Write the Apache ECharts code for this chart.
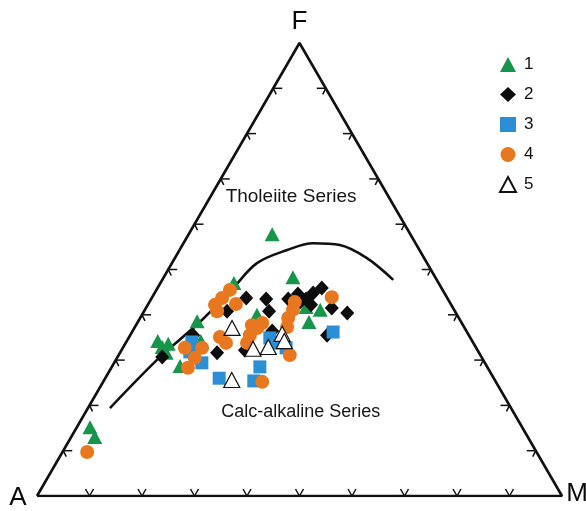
<!DOCTYPE html>
<html>
<head>
<meta charset="utf-8">
<script src="https://cdn.jsdelivr.net/npm/echarts@6/dist/echarts.min.js"></script>
<style>html,body{margin:0;padding:0;background:#fff}#c{width:586px;height:511px}</style>
</head>
<body>
<div id="c"></div>
<script>
// Ternary data as [A, F, M] (percent)
const vertexLabels = ['A', 'F', 'M'];
const tickValues = [10, 20, 30, 40, 50, 60, 70, 80, 90];
const seriesNames = ['1', '2', '3', '4', '5'];
const fieldLabels = ['Tholeiite Series', 'Calc-alkaline Series'];
const fieldPositions = [[18.6, 66.0, 15.4], [40.5, 18.5, 41.0]];

const boundaryCurve = [
  [76.4, 19.4, 4.2], [61.2, 30.7, 8.1], [49.8, 38.4, 11.8], [39.7, 45.9, 14.4],
  [32.4, 51.4, 16.2], [25.2, 54.3, 20.5], [19.5, 55.8, 24.7], [14.6, 55.4, 30.0],
  [10.9, 52.5, 36.6], [8.3, 47.7, 44.0]
];

const group1 = [
  [26.3, 57.8, 15.9], [27.1, 48.3, 24.6], [39.0, 47.0, 14.0], [50.2, 38.6, 11.2],
  [38.1, 40.0, 21.9], [27.9, 41.7, 30.4], [25.5, 41.1, 33.4], [29.0, 38.4, 32.6],
  [59.9, 34.2, 5.9], [58.2, 33.6, 8.2], [59.6, 31.6, 8.8], [58.4, 28.7, 12.9],
  [51.7, 34.2, 14.1], [82.3, 15.2, 2.5], [82.5, 13.0, 4.5], [59.7, 32.9, 7.4]
];
const group2 = [
  [38.3, 43.7, 18.0], [34.6, 43.5, 21.9], [35.4, 40.8, 23.8], [30.4, 43.5, 26.1],
  [28.0, 44.6, 27.4], [27.0, 43.5, 29.5], [25.0, 44.8, 30.2], [22.8, 45.9, 31.3],
  [26.7, 42.2, 31.1], [23.1, 41.5, 35.4], [20.7, 40.4, 38.9], [27.0, 35.5, 37.5],
  [43.4, 40.8, 15.8], [52.5, 35.5, 12.0], [49.9, 31.6, 18.5], [60.8, 30.7, 8.5],
  [37.0, 36.4, 26.6], [44.3, 32.2, 23.5], [28.5, 42.8, 28.7]
];
const group3 = [
  [53.5, 34.0, 12.5], [53.9, 29.4, 16.7], [52.3, 26.0, 21.7], [43.3, 28.5, 28.2],
  [46.0, 25.4, 28.6], [38.2, 34.9, 26.9], [36.2, 32.7, 31.1], [25.5, 36.2, 38.3],
  [37.2, 33.8, 29.0], [55.0, 31.8, 13.2]
];
const group4 = [
  [40.5, 45.5, 14.0], [42.9, 43.7, 13.4], [45.0, 42.2, 12.8], [45.3, 40.8, 13.9],
  [40.9, 42.4, 16.7], [55.5, 32.7, 11.8], [52.2, 32.7, 15.1], [54.7, 30.5, 14.8],
  [57.1, 28.3, 14.6], [47.6, 35.1, 17.3], [47.1, 33.8, 19.1], [40.2, 37.7, 22.1],
  [38.0, 38.2, 23.8], [41.7, 35.5, 22.8], [43.1, 33.8, 23.1], [30.7, 41.1, 28.2],
  [32.5, 39.3, 28.2], [33.7, 37.3, 29.0], [36.3, 31.1, 32.6], [21.9, 43.9, 34.2],
  [44.5, 25.2, 30.3], [85.6, 9.7, 4.7], [29.5, 42.8, 27.7], [39.5, 37.1, 23.4]
];
const group5 = [
  [44.3, 37.1, 18.6], [42.6, 32.5, 24.9], [39.5, 32.9, 27.6], [35.4, 35.8, 28.8],
  [35.8, 34.2, 30.0], [50.1, 25.6, 24.3]
];

const H = Math.sqrt(3) / 2;
function tern(p) {
  const s = p[0] + p[1] + p[2];
  const F = p[1] / s * 100, M = p[2] / s * 100;
  return [M + F / 2, F * H];
}

// ticks: side 0 = bottom (A-M), 1 = left (A-F), 2 = right (F-M)
const tickData = [];
tickValues.forEach(t => {
  tickData.push(tern([100 - t, 0, t]).concat([0]));
  tickData.push(tern([100 - t, t, 0]).concat([1]));
  tickData.push(tern([0, t, 100 - t]).concat([2]));
});

function renderTick(params, api) {
  const p = api.coord([api.value(0), api.value(1)]);
  const side = api.value(2);
  const st = { stroke: '#111', lineWidth: 1.5 };
  let segs;
  if (side === 0) {
    segs = [[p[0] - 4, p[1] - 7], [p[0] + 4, p[1] - 7]];
  } else if (side === 1) {
    segs = [[p[0] + 9, p[1]], [p[0] + 3, p[1] + 6]];
  } else {
    segs = [[p[0] - 9, p[1]], [p[0] - 3, p[1] + 6]];
  }
  return {
    type: 'group',
    children: segs.map(e => ({ type: 'line', shape: { x1: p[0], y1: p[1], x2: e[0], y2: e[1] }, style: st }))
  };
}

const chart = echarts.init(document.getElementById('c'), null, { renderer: 'canvas' });
const font = 'Liberation Sans, Arial, sans-serif';

const vertexData = [
  { name: vertexLabels[0], value: tern([100, 0, 0]), label: { offset: [-19, 2] } },
  { name: vertexLabels[1], value: tern([0, 100, 0]), label: { offset: [0, -21] } },
  { name: vertexLabels[2], value: tern([0, 0, 100]), label: { offset: [15, -2] } }
];

function pts(g) { return g.map(tern); }

chart.setOption({
  animation: false,
  backgroundColor: '#fff',
  grid: { left: 37, right: 24, top: 43, bottom: 15 },
  xAxis: { type: 'value', min: 0, max: 100, show: false },
  yAxis: { type: 'value', min: 0, max: 100 * H, show: false },
  legend: {
    data: seriesNames,
    orient: 'vertical',
    left: 494,
    top: 51,
    itemWidth: 16,
    itemHeight: 15,
    itemGap: 13,
    textStyle: { fontSize: 17, color: '#111', fontFamily: font, padding: [0, 0, 0, 3] }
  },
  series: [
    {
      name: 'frame', type: 'line', silent: true, symbol: 'none',
      data: [tern([100, 0, 0]), tern([0, 0, 100]), tern([0, 100, 0]), tern([100, 0, 0])],
      lineStyle: { color: '#111', width: 2.6 }, z: 1
    },
    {
      name: 'ticks', type: 'custom', silent: true, renderItem: renderTick, data: tickData, z: 1
    },
    {
      name: 'boundary', type: 'line', silent: true, symbol: 'none', smooth: 0.35,
      data: pts(boundaryCurve), lineStyle: { color: '#111', width: 2.6 }, z: 1
    },
    {
      name: 'vertices', type: 'scatter', silent: true, symbolSize: 0,
      itemStyle: { color: 'transparent', opacity: 1 },
      data: vertexData,
      label: { show: true, position: 'inside', formatter: '{b}', fontSize: 26, color: '#0a0a0a', fontFamily: font, textBorderWidth: 0 }
    },
    {
      name: 'fields', type: 'scatter', silent: true, symbolSize: 0,
      itemStyle: { color: 'transparent', opacity: 1 },
      data: fieldLabels.map((n, i) => ({ name: n, value: tern(fieldPositions[i]), label: { fontSize: i === 0 ? 19 : 18 } })),
      label: { show: true, position: 'inside', formatter: '{b}', fontSize: 18, color: '#161616', fontFamily: font, textBorderWidth: 0 }
    },
    {
      name: seriesNames[0], type: 'scatter', symbol: 'triangle', symbolSize: [15, 14],
      itemStyle: { color: '#16964a', opacity: 1 }, data: pts(group1), z: 3
    },
    {
      name: seriesNames[1], type: 'scatter', symbol: 'diamond', symbolSize: [14, 15],
      itemStyle: { color: '#0d0d0d', opacity: 1 }, data: pts(group2), z: 3
    },
    {
      name: seriesNames[2], type: 'scatter', symbol: 'rect', symbolSize: 13,
      itemStyle: { color: '#2b8fd6', opacity: 1 }, data: pts(group3), z: 3
    },
    {
      name: seriesNames[3], type: 'scatter', symbol: 'circle', symbolSize: 14,
      itemStyle: { color: '#e8781f', opacity: 1 }, data: pts(group4), z: 3
    },
    {
      name: seriesNames[4], type: 'scatter', symbol: 'triangle', symbolSize: [16, 15],
      itemStyle: { color: '#ffffff', borderColor: '#111', borderWidth: 1.2, opacity: 1 }, data: pts(group5), z: 4
    }
  ]
});
</script>
</body>
</html>
